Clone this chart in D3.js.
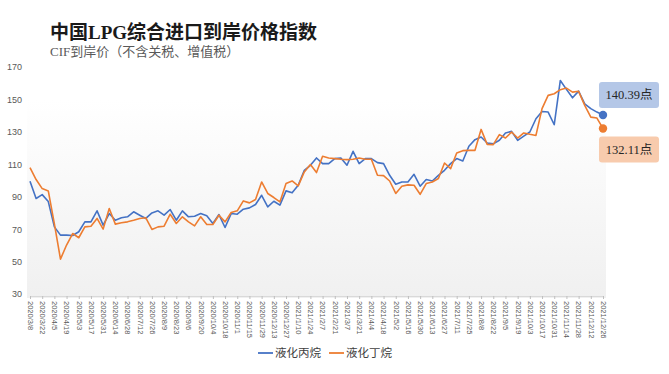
<!DOCTYPE html>
<html>
<head>
<meta charset="utf-8">
<script src="https://cdn.jsdelivr.net/npm/d3@7"></script>
<style>
    html, body { margin: 0; padding: 0; background: #fff; }
    svg { display: block; }
</style>
</head>
<body>
<div id="chart"></div>
<script>
"use strict";



//
// Data
//

var weekDates = [
    "2020/3/8", "2020/3/15", "2020/3/22", "2020/3/29", "2020/4/5", "2020/4/12", "2020/4/19", "2020/4/26",
    "2020/5/3", "2020/5/10", "2020/5/17", "2020/5/24", "2020/5/31", "2020/6/7", "2020/6/14", "2020/6/21",
    "2020/6/28", "2020/7/5", "2020/7/12", "2020/7/19", "2020/7/26", "2020/8/2", "2020/8/9", "2020/8/16",
    "2020/8/23", "2020/8/30", "2020/9/6", "2020/9/13", "2020/9/20", "2020/9/27", "2020/10/4", "2020/10/11",
    "2020/10/18", "2020/10/25", "2020/11/1", "2020/11/8", "2020/11/15", "2020/11/22", "2020/11/29", "2020/12/6",
    "2020/12/13", "2020/12/20", "2020/12/27", "2021/1/3", "2021/1/10", "2021/1/17", "2021/1/24", "2021/1/31",
    "2021/2/7", "2021/2/14", "2021/2/21", "2021/2/28", "2021/3/7", "2021/3/14", "2021/3/21", "2021/3/28",
    "2021/4/4", "2021/4/11", "2021/4/18", "2021/4/25", "2021/5/2", "2021/5/9", "2021/5/16", "2021/5/23",
    "2021/5/30", "2021/6/6", "2021/6/13", "2021/6/20", "2021/6/27", "2021/7/4", "2021/7/11", "2021/7/18",
    "2021/7/25", "2021/8/1", "2021/8/8", "2021/8/15", "2021/8/22", "2021/8/29", "2021/9/5", "2021/9/12",
    "2021/9/19", "2021/9/26", "2021/10/3", "2021/10/10", "2021/10/17", "2021/10/24", "2021/10/31", "2021/11/7",
    "2021/11/14", "2021/11/21", "2021/11/28", "2021/12/5", "2021/12/12", "2021/12/19", "2021/12/26"
];

// 液化丙烷
var propaneValues = [
    99.5, 88.9, 91.3, 87.0, 71.4, 66.3, 66.3, 66.1, 68.4, 74.5, 74.5, 81.3, 72.5, 79.6, 75.5, 77.0,
    77.6, 80.7, 78.6, 76.6, 80.0, 81.3, 78.6, 82.1, 75.5, 81.3, 77.6, 78.0, 79.6, 78.2, 73.5, 79.0,
    71.0, 79.6, 79.2, 82.3, 83.1, 85.2, 90.9, 83.7, 87.2, 84.8, 93.6, 92.4, 97.1, 106.3, 109.4, 113.9,
    110.4, 110.4, 113.5, 113.9, 109.4, 118.0, 110.4, 113.5, 113.5, 111.0, 110.4, 103.2, 97.7, 99.1, 99.1, 103.8,
    96.5, 100.6, 99.7, 103.2, 106.3, 110.4, 113.5, 112.0, 121.1, 125.2, 126.8, 123.1, 122.6, 124.8, 129.3, 130.3,
    124.8, 127.4, 129.9, 138.1, 142.6, 142.2, 134.4, 161.7, 156.2, 151.0, 155.1, 147.3, 144.3, 142.2, 140.39
];

// 液化丁烷
var butaneValues = [
    108.0, 100.6, 95.0, 93.6, 73.3, 51.5, 60.2, 67.3, 64.7, 71.4, 71.8, 76.6, 70.0, 82.7, 73.1, 73.9,
    74.5, 75.5, 76.6, 77.0, 69.8, 71.4, 71.8, 79.2, 73.5, 77.6, 74.5, 72.0, 77.6, 72.9, 72.9, 78.6,
    74.5, 80.3, 81.3, 87.4, 86.2, 88.3, 99.1, 92.0, 89.5, 86.8, 98.1, 99.7, 96.7, 105.3, 109.8, 104.9,
    114.9, 113.9, 113.5, 113.1, 112.9, 113.1, 113.9, 113.1, 113.1, 103.2, 103.0, 99.7, 92.0, 96.5, 97.3, 97.1,
    91.5, 98.1, 99.1, 101.2, 110.8, 107.3, 117.0, 118.4, 118.6, 118.6, 131.5, 122.3, 122.1, 128.3, 126.2, 129.9,
    126.2, 129.3, 128.5, 127.8, 144.3, 152.5, 153.5, 156.0, 157.0, 154.5, 155.0, 146.3, 139.1, 138.5, 132.11
];

var yTickValues = [30, 50, 70, 90, 110, 130, 150, 170];
var seriesNames = ["液化丙烷", "液化丁烷"];
var seriesColors = ["#4472C4", "#ED7D31"];
var boxColors = ["#B4C7E7", "#F8CBAD"];
var endLabels = ["140.39点", "132.11点"];

var chartTitle = "中国LPG综合进口到岸价格指数";
var chartSubtitle = "CIF到岸价（不含关税、增值税）";



//
// Setup
//

var width = 669,
    height = 374;

var svg = d3.select("#chart").append("svg")
    .attr("width", width)
    .attr("height", height);

var x = d3.scalePoint().domain(weekDates).range([30, 603]);
var y = d3.scaleLinear().domain([30, 170]).range([294, 67]);

var serif = "'Liberation Serif', 'Noto Sans CJK SC', serif",
    sans = "'Liberation Sans', 'Noto Sans CJK SC', Arial, sans-serif";


// Soft grey backdrop behind the plot
var grad = svg.append("defs").append("linearGradient")
    .attr("id", "plotBg")
    .attr("x1", 0).attr("y1", 0)
    .attr("x2", 0).attr("y2", 1);

grad.append("stop").attr("offset", "0%").attr("stop-color", "#ffffff");
grad.append("stop").attr("offset", "100%").attr("stop-color", "#f0f0f0");

svg.append("rect")
    .attr("x", 27)
    .attr("y", 100)
    .attr("width", 579)
    .attr("height", 198)
    .style("fill", "url(#plotBg)");



//
// Titles
//

svg.append("text")
    .attr("x", 50)
    .attr("y", 39)
    .style("font-family", serif)
    .style("font-weight", "bold")
    .style("font-size", "19px")
    .style("fill", "#1a1a1a")
    .text(chartTitle);

svg.append("text")
    .attr("x", 50)
    .attr("y", 56)
    .style("font-family", serif)
    .style("font-size", "13px")
    .style("fill", "#595959")
    .text(chartSubtitle);



//
// Axes
//

var yAxis = svg.append("g")
    .attr("transform", "translate(22,0)")
    .call(d3.axisLeft(y).tickValues(yTickValues).tickSize(0).tickPadding(0));

yAxis.select(".domain").remove();
yAxis.selectAll("text")
    .style("font-family", sans)
    .style("font-size", "9px")
    .style("fill", "#595959");

var xAxis = svg.append("g")
    .attr("transform", "translate(0,296)")
    .call(d3.axisBottom(x)
        .tickValues(weekDates.filter(function (d, i) { return i % 2 === 0; }))
        .tickSize(3)
        .tickSizeOuter(0));

xAxis.select(".domain").style("stroke", "#d9d9d9");
xAxis.selectAll(".tick line").style("stroke", "#bfbfbf");
xAxis.selectAll("text")
    .attr("transform", "rotate(90)")
    .attr("x", 5)
    .attr("y", 0)
    .attr("dy", "0.35em")
    .style("text-anchor", "start")
    .style("font-family", sans)
    .style("font-size", "7.5px")
    .style("fill", "#595959");



//
// Lines, end dots and value boxes
//

var line = d3.line()
    .x(function (d, i) { return x(weekDates[i]); })
    .y(function (d) { return y(d); });

var allSeries = [propaneValues, butaneValues];

allSeries.forEach(function (values, s) {

    svg.append("path")
        .datum(values)
        .attr("d", line)
        .style("fill", "none")
        .style("stroke", seriesColors[s])
        .style("stroke-width", 1.6)
        .style("stroke-linejoin", "round");

    var lastX = x(weekDates[values.length - 1]),
        lastY = y(values[values.length - 1]);

    svg.append("circle")
        .attr("cx", lastX)
        .attr("cy", lastY)
        .attr("r", 4.2)
        .style("fill", seriesColors[s]);

    // blue box sits above its dot, orange below
    var boxY = s === 0 ? lastY - 33 : lastY + 8;

    svg.append("rect")
        .attr("x", lastX - 4)
        .attr("y", boxY)
        .attr("width", 60)
        .attr("height", 26)
        .attr("rx", 3)
        .style("fill", boxColors[s]);

    svg.append("text")
        .attr("x", lastX + 26)
        .attr("y", boxY + 13)
        .attr("dy", "0.35em")
        .style("text-anchor", "middle")
        .style("font-family", serif)
        .style("font-size", "12.5px")
        .style("fill", "#262626")
        .text(endLabels[s]);
});



//
// Legend
//

var legend = svg.append("g")
    .attr("transform", "translate(258,353)");

seriesNames.forEach(function (name, s) {

    var item = legend.append("g")
        .attr("transform", "translate(" + (s * 71) + ",0)");

    item.append("line")
        .attr("x1", 0).attr("x2", 15)
        .attr("y1", 0).attr("y2", 0)
        .style("stroke", seriesColors[s])
        .style("stroke-width", 1.8);

    item.append("text")
        .attr("x", 17)
        .attr("y", 0)
        .attr("dy", "0.36em")
        .style("font-family", sans)
        .style("font-size", "11.5px")
        .style("fill", "#404040")
        .text(name);
});

</script>
</body>
</html>
